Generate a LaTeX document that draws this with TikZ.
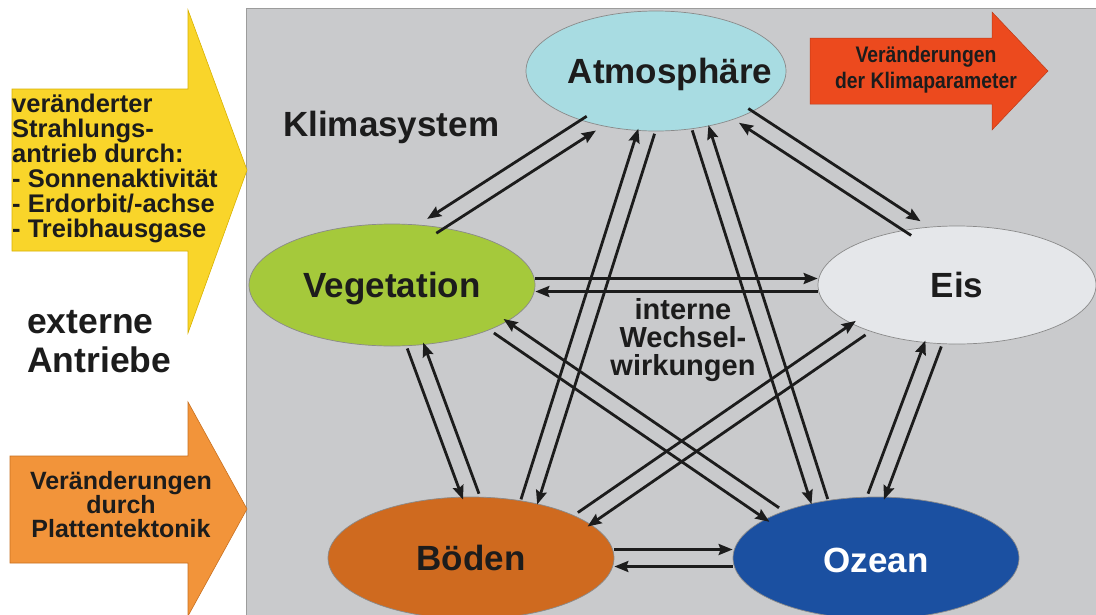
\documentclass[tikz,border=0pt]{standalone}
\usepackage{fontspec}
\setmainfont{Liberation Sans}
\newfontfamily\narrowfont[FakeStretch=0.86]{Liberation Sans}
\usetikzlibrary{arrows.meta,calc,shapes.geometric}
\definecolor{bggray}{HTML}{C9CACC}
\definecolor{bgline}{HTML}{9C9C9C}
\definecolor{atmc}{HTML}{A8DCE2}
\definecolor{vegc}{HTML}{A5C93B}
\definecolor{eisc}{HTML}{E5E7EA}
\definecolor{bodc}{HTML}{CF6A1F}
\definecolor{ozec}{HTML}{1B50A1}
\definecolor{yelc}{HTML}{F9D52A}
\definecolor{yeld}{HTML}{D8B200}
\definecolor{orac}{HTML}{F2943A}
\definecolor{orad}{HTML}{C87020}
\definecolor{redc}{HTML}{EC4A1E}
\definecolor{inkc}{HTML}{1C1C1C}
\definecolor{ellline}{HTML}{8A8A8A}
\newcommand\twoway[4]{%
  \path let \p1=($(#2)-(#1)$), \n1={atan2(\y1,\x1)+#3*90} in \pgfextra{\xdef\twang{\n1}};
  \draw[conn,transform canvas={shift={(\twang:#4)}}] (#1) -- (#2);
  \draw[conn,transform canvas={shift={(\twang+180:#4)}}] (#2) -- (#1);
}
\begin{document}
\begin{tikzpicture}[x=1pt,y=-1pt,
  ell/.style={ellipse,draw=ellline,line width=0.7pt,inner sep=0pt},
  big/.style={font=\bfseries\fontsize{35}{35}\selectfont,text=inkc,text height=25pt,text depth=0pt},
  conn/.style={draw=inkc,line width=2.8pt,-{Stealth[length=14pt,width=11pt,inset=2pt]}},
  txt/.style={inner sep=0pt,text=inkc}]
\useasboundingbox (0,0) rectangle (1096,614);
\fill[white] (0,0) rectangle (1096,614);
% gray panel
\draw[fill=bggray,draw=bgline,line width=0.8pt] (246,8) rectangle (1100,620);
% external arrows
\draw[fill=yelc,draw=yeld,line width=0.6pt] (12,89) -- (188,89) -- (188,10) -- (247,170) -- (188,333) -- (188,251) -- (12,251) -- cycle;
\draw[fill=orac,draw=orad,line width=0.6pt] (10,456) -- (188,456) -- (188,402) -- (247,509) -- (188,616) -- (188,563) -- (10,563) -- cycle;
\draw[fill=redc,draw=redc!80!black,line width=0.5pt] (810,38) -- (992,38) -- (992,12) -- (1048,71) -- (992,130) -- (992,104) -- (810,104) -- cycle;
% ellipses
\node[ell,fill=atmc,minimum width=260pt,minimum height=120pt,
  label={[name=atmt,big,xshift=14pt]center:Atmosphäre}] (atm) at (656,71) {};
\node[ell,fill=vegc,minimum width=286pt,minimum height=122pt,
  label={[name=vegt,big]center:Vegetation}] (veg) at (392,285) {};
\node[ell,fill=eisc,minimum width=278pt,minimum height=118pt,
  label={[name=eist,big]center:Eis}] (eis) at (957,285) {};
\node[ell,fill=bodc,minimum width=286pt,minimum height=122pt,
  label={[name=bodt,big]center:Böden}] (bod) at (471,558) {};
\node[ell,fill=ozec,minimum width=286pt,minimum height=122pt,
  label={[name=ozet,big,text=white,yshift=-2pt]center:Ozean}] (oze) at (876,558) {};
% interactions
\twoway{atm.219}{veg.56}{-1}{8.5pt}
\twoway{atm.333}{eis.126}{1}{8.5pt}
\twoway{atm.261}{bod.44}{1}{8.5pt}
\twoway{atm.308}{oze.135}{-1}{8.5pt}
\twoway{veg.0}{eis.180}{1}{6.5pt}
\twoway{veg.291}{bod.90}{-1}{8.5pt}
\twoway{veg.339}{oze.157}{-1}{8.5pt}
\twoway{eis.204}{bod.19}{1}{8.5pt}
\twoway{eis.248}{oze.90}{1}{8.5pt}
\twoway{bod.0}{oze.180}{1}{8.5pt}
% texts
\node[txt,anchor=west,font=\bfseries\fontsize{35}{35}\selectfont] (klima) at (283,127) {Klimasystem};
\node[txt,align=center,font=\bfseries\fontsize{29}{28}\selectfont] (intern) at (683,340) {interne\\Wechsel-\\wirkungen};
\node[txt,anchor=west,align=left,font=\bfseries\fontsize{25.5}{25}\selectfont] (strahl) at (12,168) {veränderter\\Strahlungs-\\antrieb durch:\\- Sonnenaktivität\\- Erdorbit/-achse\\- Treibhausgase};
\node[txt,anchor=west,align=left,font=\bfseries\fontsize{35.5}{39}\selectfont] (extern) at (27,342) {externe\\Antriebe};
\node[txt,align=center,font=\bfseries\fontsize{25}{24}\selectfont] (platt) at (121,505) {Veränderungen\\durch\\Plattentektonik};
\node[txt,align=center,font=\narrowfont\bfseries\fontsize{22.5}{26}\selectfont] (klimap) at (926,70) {Veränderungen\\der Klimaparameter};
\end{tikzpicture}
\end{document}
